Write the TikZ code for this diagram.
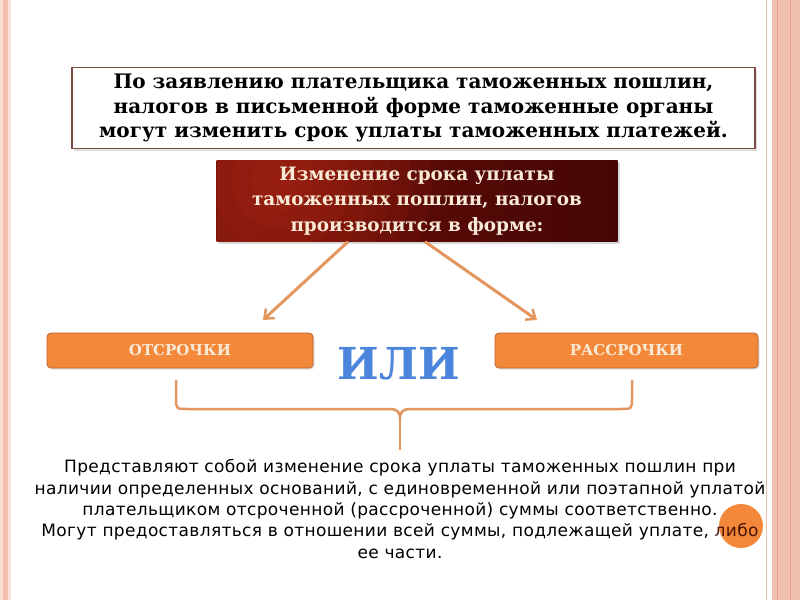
\documentclass[tikz,border=0pt]{standalone}
\usepackage{fontspec}
\usetikzlibrary{arrows.meta,shadows}
\newfontfamily\headfont{DejaVu Serif}
\newfontfamily\bodyfont[LetterSpace=2]{DejaVu Sans}
\definecolor{framepink}{HTML}{F2C0AE}
\definecolor{framedark}{HTML}{E6A48E}
\definecolor{boxline}{HTML}{7A4E45}
\definecolor{wine}{HTML}{6E0F09}
\definecolor{winedark}{HTML}{440604}
\definecolor{winelight}{HTML}{C8341C}
\definecolor{cream}{HTML}{F8EAD6}
\definecolor{tan}{HTML}{E3965E}
\definecolor{orangebox}{HTML}{F4883A}
\definecolor{orangeline}{HTML}{B9622C}
\definecolor{orblue}{HTML}{4C86DC}
\definecolor{maroon}{HTML}{4A1408}
\begin{document}
\begin{tikzpicture}[x=1pt,y=-1pt,
	topbox/.style={draw=boxline,line width=1.6pt,fill=white,minimum width=683,minimum height=81,
		align=center,font=\headfont\bfseries\fontsize{20}{24.5}\selectfont,
		drop shadow={shadow xshift=2pt,shadow yshift=-2pt,opacity=.25}},
	winebox/.style={left color=wine,right color=winedark,minimum width=401,minimum height=81,
		align=center,text=cream,font=\headfont\bfseries\fontsize{18.4}{25.5}\selectfont,
		drop shadow={shadow xshift=2pt,shadow yshift=-2pt,opacity=.3}},
	formbox/.style={draw=orangeline,line width=.8pt,fill=orangebox,rounded corners=4pt,
		minimum height=35,text=cream,font=\headfont\bfseries\fontsize{15}{18}\selectfont,
		drop shadow={shadow xshift=1.5pt,shadow yshift=-1.5pt,opacity=.25}},
	pointer/.style={tan,line width=3pt,-{Straight Barb[length=8pt,width=13pt,line width=2.5pt]}},
	brace/.style={tan,line width=2.5pt}]
	\useasboundingbox (0,0) rectangle (800,600);
	\fill[white] (0,0) rectangle (800,600);

	% frame
	\fill[framepink!50] (0,0) rectangle (11,600);
	\fill[framepink] (3,0) rectangle (8,600);
	\draw[framepink,line width=1pt] (766,0) -- (766,600);
	\fill[framepink] (772,0) rectangle (800,600);
	\draw[framedark,line width=.8pt] (777,0) -- (777,600);
	\draw[framedark,line width=.8pt] (790,0) -- (790,600);

	% boxes
	\node[topbox] (claim) at (413.5,108) {По заявлению плательщика таможенных пошлин,\\
		налогов в письменной форме таможенные органы\\
		могут изменить срок уплаты таможенных платежей.};
	\node[winebox,path picture={
		\foreach \r in {150,130,...,10}
			\fill[winelight,opacity=.09] ([shift={(65,20)}]path picture bounding box.north west) circle (\r);}] (form) at (417,201)
		{Изменение срока уплаты\\ таможенных пошлин, налогов\\ производится в форме:};
	\node[formbox,minimum width=266] (delay) at (180,350.5) {ОТСРОЧКИ};
	\node[formbox,minimum width=263] (install) at (626.5,350.5) {РАССРОЧКИ};
	\node[text=orblue,font=\headfont\bfseries\fontsize{44}{46}\selectfont] (or) at (399,364) {ИЛИ};

	% arrows
	\coordinate (tipL) at (263,320);
	\coordinate (tipR) at (537,320);
	\draw[pointer] (form.south -| 348,0) -- (tipL);
	\draw[pointer] (form.south -| 425,0) -- (tipR);

	% brace
	\coordinate (braceL) at (176,380);
	\coordinate (braceR) at (632,380);
	\coordinate (cusp) at (400,418);
	\coordinate (stem) at (400,450);
	\draw[brace] (braceL) -- (176,398) .. controls (176,409) .. (188,409) -- (390,409)
		.. controls (397,409) and (400,412) .. (cusp) .. controls (400,412) and (403,409) .. (410,409)
		-- (620,409) .. controls (632,409) .. (632,398) -- (braceR);
	\draw[brace,line width=2pt] (cusp) -- (stem);

	% note
	\fill[orangebox] (741,526) circle (22);
	\node[align=center,font=\bodyfont\fontsize{17}{21.3}\selectfont] (note) at (400,509)
		{Представляют собой изменение срока уплаты таможенных пошлин при\\
		наличии определенных оснований, с единовременной или поэтапной уплатой\\
		плательщиком отсроченной (рассроченной) суммы соответственно.\\
		Могут предоставляться в отношении всей суммы, подлежащей уплате, {\color{maroon}либо}\\
		ее части.};
\end{tikzpicture}
\end{document}
